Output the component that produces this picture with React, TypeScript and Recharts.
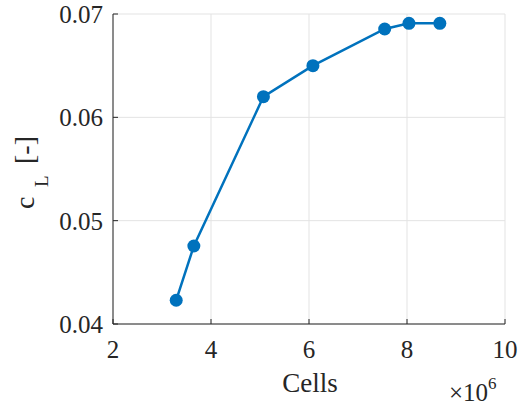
import { CartesianGrid, Line, LineChart, XAxis, YAxis } from "recharts";

// mesh size (cells) vs. lift coefficient
const cells = [3290000, 3650000, 5070000, 6080000, 7545000, 8040000, 8670000];
const liftCoeff = [0.0423, 0.04755, 0.062, 0.065, 0.06855, 0.0691, 0.0691];
const xTicks = [2e6, 4e6, 6e6, 8e6, 10e6];
const yTicks = [0.04, 0.05, 0.06, 0.07];

const data = cells.map((c, i) => ({ cells: c, cl: liftCoeff[i] }));

const FONT = "Liberation Serif";
const INK = "#262626";
const BLUE = "#0072BD";

const tickStyle = { fill: INK, fontSize: 25, fontFamily: FONT };

function XLabel() {
	return (
		<g>
			<text x={310} y={392} textAnchor="middle" fill={INK} fontSize={27} fontFamily={FONT}>
				Cells
			</text>
			<text x={449} y={401} fill={INK} fontSize={25} fontFamily={FONT}>
				×10
				<tspan dy={-12} fontSize={17}>
					6
				</tspan>
			</text>
		</g>
	);
}

function YLabel() {
	return (
		<text transform="translate(34,209) rotate(-90)" fill={INK} fontSize={28} fontFamily={FONT}>
			<tspan x={0} y={0}>
				c
			</tspan>
			<tspan x={22} y={14} fontSize={19}>
				L
			</tspan>
			<tspan x={45} y={0}>
				[-]
			</tspan>
		</text>
	);
}

export default function App() {
	return (
		<div style={{ position: "absolute", left: 0, top: 0, width: 524, height: 405, background: "#fff" }}>
			<LineChart
				width={524}
				height={405}
				data={data}
				margin={{ top: 14, right: 19, bottom: 0, left: 0 }}
			>
				<CartesianGrid stroke="#e3e3e3" strokeWidth={1} />
				<XAxis
					dataKey="cells"
					type="number"
					domain={[2e6, 10e6]}
					ticks={xTicks}
					tickFormatter={(v) => String(v / 1e6)}
					height={81}
					stroke={INK}
					tickSize={-5}
					tickMargin={21}
					tick={tickStyle}
					label={<XLabel />}
				/>
				<XAxis
					xAxisId="top"
					orientation="top"
					dataKey="cells"
					type="number"
					domain={[2e6, 10e6]}
					ticks={xTicks}
					height={0}
					stroke={INK}
					tickSize={-5}
					tick={false}
				/>
				<YAxis
					type="number"
					domain={[0.04, 0.07]}
					ticks={yTicks}
					tickFormatter={(v) => String(Number(v.toFixed(2)))}
					width={113}
					stroke={INK}
					tickSize={-5}
					tickMargin={15}
					tick={tickStyle}
					label={<YLabel />}
				/>
				<YAxis
					yAxisId="right"
					orientation="right"
					type="number"
					domain={[0.04, 0.07]}
					ticks={yTicks}
					width={0}
					stroke={INK}
					tickSize={-5}
					tick={false}
				/>
				<Line
					type="linear"
					dataKey="cl"
					stroke={BLUE}
					strokeWidth={2.5}
					dot={{ r: 6.5, fill: BLUE, stroke: BLUE, strokeWidth: 0 }}
					activeDot={false}
					isAnimationActive={false}
				/>
			</LineChart>
		</div>
	);
}
